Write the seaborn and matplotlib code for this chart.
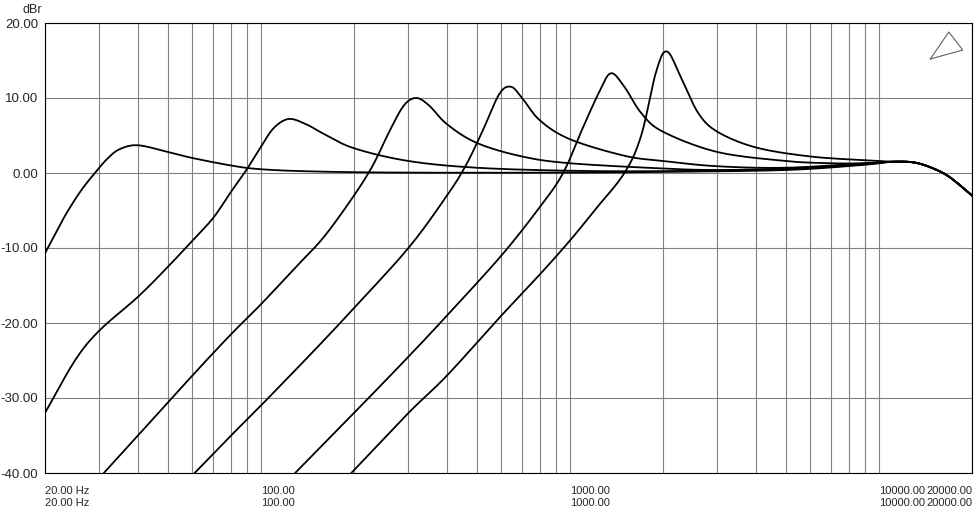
import matplotlib.pyplot as plt
import seaborn as sns
import numpy as np

sns.set_style("white")
plt.rcParams['font.family'] = ['Liberation Sans', 'DejaVu Sans']

# shared high frequency tail (dBr)
tail_f = [11000, 13000, 15000, 17000, 20000]
tail_db = [1.5, 1.4, 0.6, -0.6, -3.0]

c1_f = [20, 23, 26, 29, 32, 35, 40, 50, 60, 80, 100, 150, 300, 1000, 2000, 5000, 9000]
c1_db = [-10.7, -6, -2.5, 0, 2, 3.2, 3.7, 2.8, 2.0, 1.0, 0.5, 0.2, 0.05, 0.05, 0.15, 0.4, 1.1]
c2_f = [20, 25, 30, 40, 50, 60, 70, 80, 90, 100, 110, 123, 140, 160, 200, 300, 500, 1000, 2000, 5000, 9000]
c2_db = [-32, -25, -21, -16.5, -12.5, -9, -6, -2.5, 0.5, 3.5, 6.0, 7.2, 6.5, 5.2, 3.3, 1.6, 0.7, 0.3, 0.25, 0.5, 1.2]
c3_f = [31, 40, 60, 80, 100, 130, 160, 200, 230, 260, 290, 318, 350, 400, 500, 700, 1000, 2000, 3000, 5000, 9000]
c3_db = [-40, -35, -27, -21.5, -17.5, -12.5, -8.5, -3, 1, 5.5, 9.0, 10, 9, 6.5, 4, 2.2, 1.3, 0.6, 0.4, 0.6, 1.2]
c4_f = [61, 80, 100, 150, 200, 300, 400, 460, 520, 590, 644, 700, 800, 1000, 1500, 2000, 3000, 5000, 9000]
c4_db = [-40, -35, -31, -23.5, -18, -10, -3, 1, 5.5, 10.5, 11.5, 10, 7, 4.5, 2.3, 1.6, 0.9, 0.7, 1.3]
c5_f = [129, 200, 300, 400, 600, 800, 950, 1100, 1250, 1358, 1500, 1700, 2000, 3000, 5000, 7000, 9000]
c5_db = [-40, -32, -24.5, -19, -11, -4.5, 0, 6, 11, 13.3, 11.5, 8, 5.5, 2.8, 1.6, 1.3, 1.3]
c6_f = [196, 300, 400, 600, 800, 1000, 1200, 1500, 1700, 1900, 2061, 2300, 2600, 3000, 4000, 6000, 9000]
c6_db = [-40, -32, -27, -19, -13.5, -9, -5, 0, 5, 13.5, 16.2, 12.5, 8, 5.5, 3.4, 2.2, 1.7]

curves = [(c1_f, c1_db), (c2_f, c2_db), (c3_f, c3_db),
          (c4_f, c4_db), (c5_f, c5_db), (c6_f, c6_db)]

xtick_vals = [20, 100, 1000, 10000, 20000]
xtick_labels = ["20.00 Hz\n20.00 Hz", "100.00\n100.00", "1000.00\n1000.00",
                "10000.00\n10000.00", "20000.00\n20000.00"]
ytick_vals = [-40, -30, -20, -10, 0, 10, 20]


def smooth(f, db, n=12):
    # Catmull-Rom through the read points, in log-frequency
    x = np.log10(f)
    y = np.asarray(db, float)
    px = np.concatenate([[2*x[0]-x[1]], x, [2*x[-1]-x[-2]]])
    py = np.concatenate([[2*y[0]-y[1]], y, [2*y[-1]-y[-2]]])
    xs, ys = [], []
    t = np.linspace(0, 1, n, endpoint=False)
    for i in range(1, len(px) - 2):
        for arr, out in ((px, xs), (py, ys)):
            p0, p1, p2, p3 = arr[i-1:i+3]
            out.extend(0.5*(2*p1 + (-p0+p2)*t + (2*p0-5*p1+4*p2-p3)*t**2 + (-p0+3*p1-3*p2+p3)*t**3))
    xs.append(x[-1]); ys.append(y[-1])
    return 10**np.array(xs), np.array(ys)


fig = plt.figure(figsize=[9.75, 5.12], dpi=100)
ax = fig.add_axes([45/975, 1-473/512, 927/975, 450/512])

# grid lines
grid_f = [m * 10**e for e in range(1, 5) for m in range(1, 10)] + [20000]
for g in grid_f:
    if 20 <= g <= 20000:
        ax.axvline(g, color="#808080", lw=0.8, zorder=0)
for y in ytick_vals:
    ax.axhline(y, color="#808080", lw=0.8, zorder=0)

for f, db in curves:
    xs, ys = smooth(f + tail_f, db + tail_db)
    sns.lineplot(x=xs, y=ys, ax=ax, color="black", lw=1.3, sort=False, estimator=None)

ax.set_xscale("log")
ax.set_xlim(20, 20000)
ax.set_ylim(-40, 20)
ax.set_xticks(xtick_vals)
ax.set_xticklabels(xtick_labels, fontsize=8, linespacing=1.25)
ax.minorticks_off()
ax.set_yticks(ytick_vals)
ax.set_yticklabels(["%.2f" % v for v in ytick_vals], fontsize=9.5)
ax.tick_params(length=3, pad=2)
ax.tick_params(axis="x", pad=6)
for s in ax.spines.values():
    s.set_color("black")
    s.set_linewidth(0.8)
labs = ax.get_xticklabels()
for lab in labs:
    lab.set_horizontalalignment("left")
labs[-1].set_horizontalalignment("right")
fig.text(42/975, 1-4/512, "dBr", ha="right", va="top", fontsize=9)

# small triangle logo
ax.plot([0.955, 0.975, 0.99, 0.955], [0.92, 0.98, 0.94, 0.92], transform=ax.transAxes,
        color="#606060", lw=0.8)

plt.savefig("out.png", dpi=100)
